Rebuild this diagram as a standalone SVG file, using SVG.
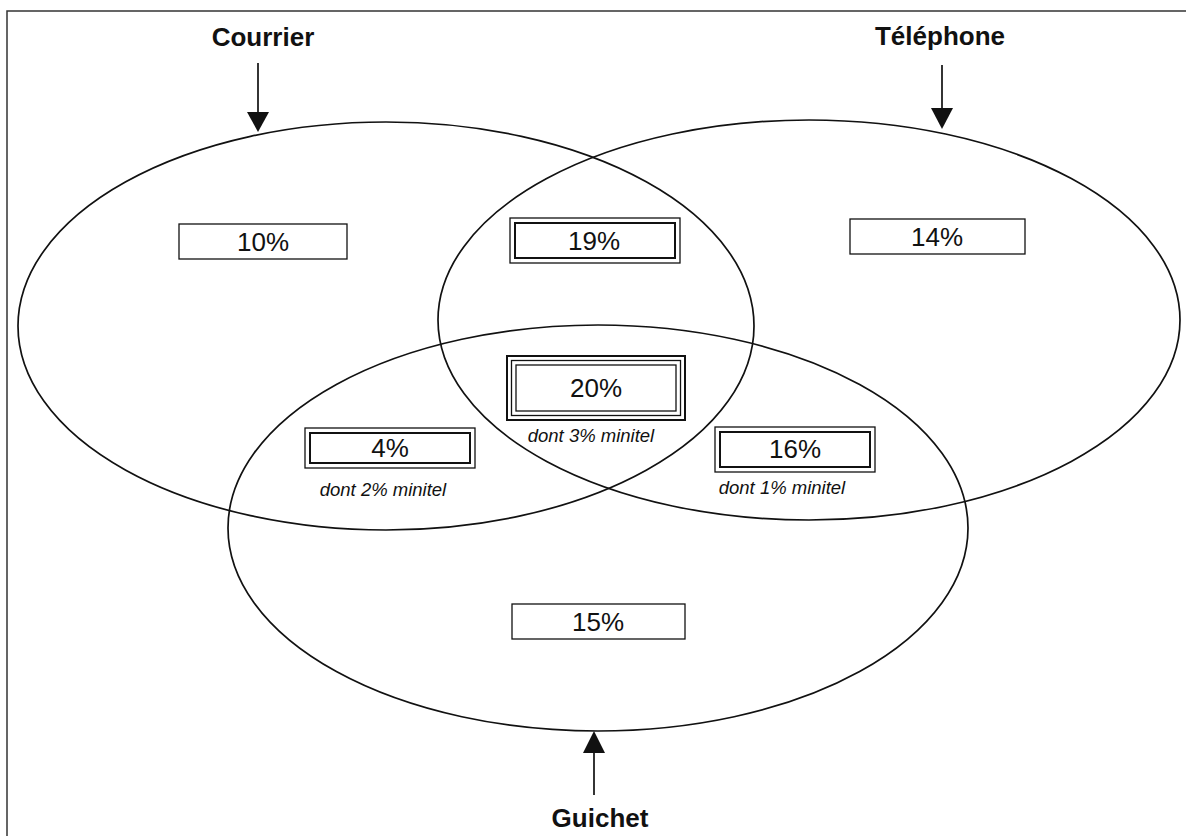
<svg xmlns="http://www.w3.org/2000/svg" width="1186" height="836" viewBox="0 0 1186 836">
<style>
.ell{fill:none;stroke:#111;stroke-width:1.7}
.box{fill:#fff;stroke:#111;stroke-width:1.3}
.boxt{fill:none;stroke:#111;stroke-width:2}
.pct{font-family:"Liberation Sans",Arial,sans-serif;font-size:26px;fill:#111;text-anchor:middle}
.sub{font-family:"Liberation Sans",Arial,sans-serif;font-size:18.5px;font-style:italic;fill:#111;text-anchor:middle}
.lbl{font-family:"Liberation Sans",Arial,sans-serif;font-size:26px;font-weight:bold;fill:#111;text-anchor:middle}
.conn{stroke:#111;stroke-width:1.7;fill:none}
.head{fill:#111}
</style>
<rect width="1186" height="836" fill="#fff"/>
<path d="M7 836 V11 H1186" fill="none" stroke="#333" stroke-width="1.5"/>
<g id="courrier">
<ellipse class="ell" cx="386" cy="326" rx="368" ry="204"/>
<text class="lbl" x="263" y="46">Courrier</text>
</g>
<g id="telephone">
<ellipse class="ell" cx="809" cy="320" rx="371" ry="200"/>
<text class="lbl" x="940" y="45">Téléphone</text>
</g>
<g id="guichet">
<ellipse class="ell" cx="598" cy="528" rx="370" ry="203"/>
<text class="lbl" x="600" y="827">Guichet</text>
</g>
<g id="connectors">
<line class="conn" x1="258" y1="63" x2="258" y2="114"/>
<polygon class="head" points="247,112 269,112 258,132"/>
<line class="conn" x1="942" y1="65" x2="942" y2="110"/>
<polygon class="head" points="931,108 953,108 942,129"/>
<line class="conn" x1="594" y1="795" x2="594" y2="750"/>
<polygon class="head" points="583,753 605,753 594,731"/>
</g>
<g id="n10">
<rect class="box" x="179" y="224" width="168" height="35"/>
<text class="pct" x="263" y="251">10%</text>
</g>
<g id="n14">
<rect class="box" x="850" y="219" width="175" height="35"/>
<text class="pct" x="937" y="246">14%</text>
</g>
<g id="n15">
<rect class="box" x="512" y="604" width="173" height="35"/>
<text class="pct" x="598" y="631">15%</text>
</g>
<g id="n19">
<rect class="box" x="510" y="218" width="170" height="45"/>
<rect class="boxt" x="515" y="223" width="160" height="35"/>
<text class="pct" x="594" y="250">19%</text>
</g>
<g id="n20">
<rect class="boxt" x="507" y="356" width="178" height="64" fill="#fff"/>
<rect class="box" x="511.5" y="360.5" width="169" height="55"/>
<rect class="box" x="516" y="365" width="160" height="46"/>
<text class="pct" x="596" y="397">20%</text>
<text class="sub" x="591" y="442">dont 3% minitel</text>
</g>
<g id="n4">
<rect class="box" x="305" y="428" width="170" height="40"/>
<rect class="boxt" x="310" y="433" width="160" height="30"/>
<text class="pct" x="390" y="457">4%</text>
<text class="sub" x="383" y="496">dont 2% minitel</text>
</g>
<g id="n16">
<rect class="box" x="715" y="427" width="160" height="45"/>
<rect class="boxt" x="720" y="432" width="150" height="35"/>
<text class="pct" x="795" y="458">16%</text>
<text class="sub" x="782" y="494">dont 1% minitel</text>
</g>
</svg>
